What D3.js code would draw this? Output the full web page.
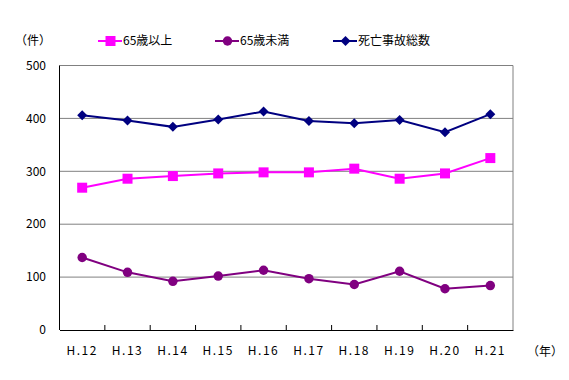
<!DOCTYPE html>
<html>
<head>
<meta charset="utf-8">
<script src="https://cdn.jsdelivr.net/npm/d3@7"></script>
<style>
  body { margin: 0; background: #fff; }
  svg text { font-family: "Noto Sans CJK JP", "DejaVu Sans", sans-serif; font-size: 12px; fill: #000; }
</style>
</head>
<body>
<div id="chart"></div>
<script>
const years = ["H.12", "H.13", "H.14", "H.15", "H.16", "H.17", "H.18", "H.19", "H.20", "H.21"];
const over65 = [269, 286, 291, 296, 298, 298, 305, 286, 296, 325];
const under65 = [137, 109, 92, 102, 113, 97, 86, 111, 78, 84];
const total = [406, 396, 384, 398, 413, 395, 391, 397, 374, 408];
const yTicks = [0, 100, 200, 300, 400, 500];

const series = [
    {name: "65歳以上", values: over65, color: "#ff00ff", marker: "square", lx: 98},
    {name: "65歳未満", values: under65, color: "#800080", marker: "circle", lx: 215},
    {name: "死亡事故総数", values: total, color: "#000080", marker: "diamond", lx: 333}
];

const width = 569;
const height = 380;
const margin = {left: 59.5, right: 56, top: 65.5, bottom: 50};

const svg = d3.select("#chart").append("svg")
    .attr("width", width)
    .attr("height", height);

const x = d3.scaleBand().domain(years)
    .range([margin.left, width - margin.right]);
const y = d3.scaleLinear().domain([0, 500])
    .range([height - margin.bottom, margin.top]);

// gridlines
svg.append("g")
    .selectAll("line")
    .data(yTicks.filter(d => d > 0))
    .enter()
    .append("line")
    .attr("x1", margin.left)
    .attr("x2", width - margin.right)
    .attr("y1", d => y(d))
    .attr("y2", d => y(d))
    .attr("stroke", "#808080")
    .attr("stroke-width", 1);

// right border
svg.append("line")
    .attr("x1", width - margin.right).attr("x2", width - margin.right)
    .attr("y1", y(500)).attr("y2", y(0))
    .attr("stroke", "#808080");

// y axis
svg.append("line")
    .attr("x1", margin.left).attr("x2", margin.left)
    .attr("y1", y(500)).attr("y2", y(0))
    .attr("stroke", "#000");

svg.append("g")
    .selectAll("text")
    .data(yTicks)
    .enter()
    .append("text")
    .attr("x", 46)
    .attr("y", d => y(d))
    .attr("dy", "0.35em")
    .attr("text-anchor", "end")
    .text(d => d);

// x axis
const xAxis = d3.axisBottom(x).tickSize(0).tickPadding(16);
const gx = svg.append("g")
    .attr("transform", "translate(0," + y(0) + ")")
    .call(xAxis);
gx.select(".domain").attr("stroke", "#000");
gx.selectAll("text")
    .style("font-size", "12px")
    .style("letter-spacing", "1.5px");

svg.append("g")
    .selectAll("line")
    .data(years.slice(1))
    .enter()
    .append("line")
    .attr("x1", d => x(d)).attr("x2", d => x(d))
    .attr("y1", y(0)).attr("y2", y(0) - 5)
    .attr("stroke", "#000");

svg.append("text")
    .attr("x", 545).attr("y", 356)
    .attr("text-anchor", "middle")
    .text("（年）");

svg.append("text")
    .attr("x", 33).attr("y", 45)
    .attr("text-anchor", "middle")
    .text("（件）");

// lines
const cx = d => x(d) + x.bandwidth() / 2;
const line = d3.line()
    .x((d, i) => cx(years[i]))
    .y(d => y(d));

const symbolOf = {
    square: d3.symbol().type(d3.symbolSquare).size(100),
    circle: d3.symbol().type(d3.symbolCircle).size(70),
    diamond: d3.symbol().type(d3.symbolSquare).size(50)
};

function drawMarker(g, kind, color) {
    g.append("path")
        .attr("d", symbolOf[kind]())
        .attr("fill", color)
        .attr("transform", kind === "diamond" ? "rotate(45)" : null);
}

series.forEach(function(s) {
    svg.append("path")
        .attr("d", line(s.values))
        .attr("fill", "none")
        .attr("stroke", s.color)
        .attr("stroke-width", 2);

    svg.selectAll(null)
        .data(s.values)
        .enter()
        .append("g")
        .attr("transform", (d, i) => "translate(" + cx(years[i]) + "," + y(d) + ")")
        .each(function() { drawMarker(d3.select(this), s.marker, s.color); });

    // legend
    const lg = svg.append("g");
    lg.append("line")
        .attr("x1", s.lx).attr("x2", s.lx + 24)
        .attr("y1", 41).attr("y2", 41)
        .attr("stroke", s.color)
        .attr("stroke-width", 2);
    lg.append("g")
        .attr("transform", "translate(" + (s.lx + 12.5) + ",41)")
        .each(function() { drawMarker(d3.select(this), s.marker, s.color); });
    lg.append("text")
        .attr("x", s.lx + 25)
        .attr("y", 41)
        .attr("dy", "0.35em")
        .text(s.name);
});
</script>
</body>
</html>
